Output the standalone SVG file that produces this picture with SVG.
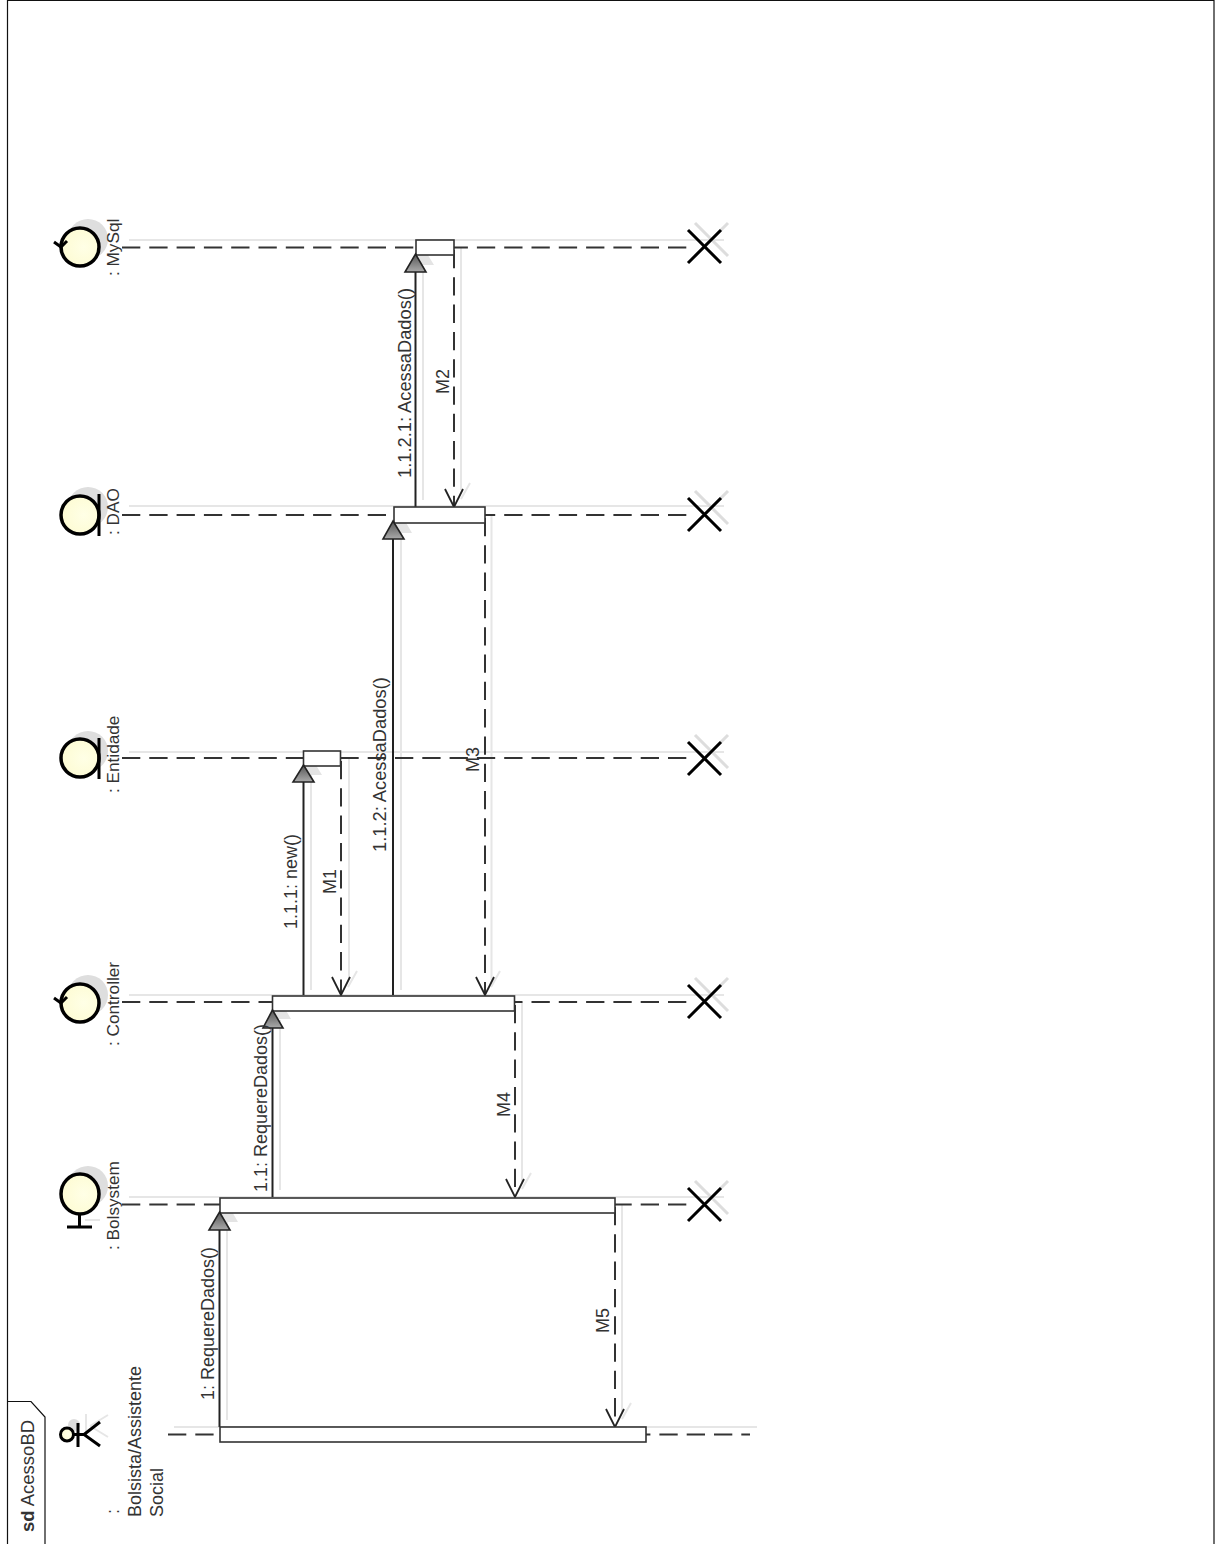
<svg xmlns="http://www.w3.org/2000/svg" width="1216" height="1544" viewBox="0 0 1216 1544">
<defs>
<linearGradient id="head" x1="0" y1="0" x2="0" y2="1"><stop offset="0" stop-color="#555"/><stop offset="1" stop-color="#aaa"/></linearGradient>
<radialGradient id="body" cx="0.6" cy="0.5" r="0.7"><stop offset="0" stop-color="#ffffe6"/><stop offset="1" stop-color="#fdfbd0"/></radialGradient>
</defs>
<style>
text{font-family:"Liberation Sans",Arial,sans-serif;font-size:18px;fill:#333}
.name{font-size:17.2px}
.wide{font-size:18.3px}
.frame{fill:none;stroke:#111;stroke-width:1.2}
.life{fill:none;stroke:#333;stroke-width:2;stroke-dasharray:18.3 9}
.shl{fill:none;stroke:#e6e6e6;stroke-width:2}
.sh{fill:#dedede;stroke:none}
.ic{fill:url(#body);stroke:#000;stroke-width:3.5}
.il{fill:none;stroke:#000;stroke-width:3}
.x{fill:none;stroke:#000;stroke-width:3}
.shx{fill:none;stroke:#ddd;stroke-width:3}
.act{fill:#fff;stroke:#333;stroke-width:1.6}
.msg{fill:none;stroke:#222;stroke-width:2}
.ret{fill:none;stroke:#333;stroke-width:2;stroke-dasharray:18.3 9}
.open{fill:none;stroke:#222;stroke-width:1.8}
.tri{fill:url(#head);stroke:#222;stroke-width:1.6}
.trs{fill:#e4e4e4;stroke:none}
</style>
<g id="frame">
<path class="frame" d="M7.500 1544 V0.500 H1214 V1544"/>
<path class="frame" d="M7.500 1401.500 H31 L45 1417 V1544"/>
<text class="wide" style="font-size:18.500px" transform="translate(34,1532) rotate(-90)"><tspan font-weight="bold">sd</tspan> AcessoBD</text>
</g>
<g id="connectors">
<path class="shl" d="M129 240 H724 M129 506 H724 M129 752 H724 M129 995 H724 M129 1197 H724 M174 1427 H757"/>
<path class="shl" d="M423 266 V500 M461 247 V490 M401 533 V990 M491.500 515 V980 M311 775 V990 M349 758 V980 M280 1020 V1190 M522 1002 V1182 M227 1222 V1420 M622 1204 V1412"/>
<path class="shl" d="M461 499 L470 483 M348 987 L357 971 M491 987 L500 971 M522 1189 L531 1173 M622 1419 L631 1403"/>
<path class="life" d="M122 247.500 H690"/>
<path class="life" d="M122 515 H690"/>
<path class="life" d="M122 758 H690"/>
<path class="life" d="M122 1002 H690"/>
<path class="life" d="M122 1204.500 H690"/>
<path class="life" d="M168 1434.500 H750"/>
<path class="msg" d="M415.500 270 V507"/>
<path class="ret" d="M454 250 V507"/>
<path class="msg" d="M393 538 V995"/>
<path class="ret" d="M485 518 V995"/>
<path class="msg" d="M303.500 780 V995"/>
<path class="ret" d="M341 761 V995"/>
<path class="msg" d="M272.500 1027 V1197"/>
<path class="ret" d="M515 1005 V1197"/>
<path class="msg" d="M219.500 1230 V1427"/>
<path class="ret" d="M615 1207 V1427"/>
<path class="open" d="M445 489 L454 507 L463 489 M332 977 L341 995 L350 977 M476 977 L485 995 L494 977 M506 1179 L515 1197 L524 1179 M606 1409 L615 1427 L624 1409"/>
<path class="trs" d="M423 247 L434 265 L412 265Z M401 514 L412 533 L390 533Z M311 757 L322 775 L300 775Z M281 1002 L291 1019 L271 1019Z M227 1203 L238 1222 L216 1222Z"/>
</g>
<g id="mysql">
<circle class="sh" cx="88" cy="239" r="20"/>
<rect class="act" x="416" y="240" width="38" height="15"/>
<path class="tri" d="M415.500 254 L426 272 L405 272Z"/>
<circle class="ic" cx="80" cy="247" r="19"/>
<path class="il" d="M54 242 L61 247 L67 241"/>
<text class="name" transform="translate(119,276) rotate(-90)">: MySql</text>
</g>
<g id="dao">
<circle class="sh" cx="88" cy="507" r="20"/>
<rect class="act" x="394" y="507" width="91" height="16"/>
<path class="tri" d="M393 521 L404 539 L383 539Z"/>
<circle class="ic" cx="80" cy="515" r="19"/>
<path class="il" d="M99 494 V536"/>
<text class="name" transform="translate(119,535) rotate(-90)">: DAO</text>
</g>
<g id="entidade">
<circle class="sh" cx="88" cy="751" r="20"/>
<rect class="act" x="303.500" y="751" width="37" height="15"/>
<path class="tri" d="M303.500 765 L314 782 L293 782Z"/>
<circle class="ic" cx="80" cy="758" r="19"/>
<path class="il" d="M99 738 V779"/>
<text class="name" transform="translate(119,793) rotate(-90)">: Entidade</text>
</g>
<g id="controller">
<circle class="sh" cx="88" cy="995" r="20"/>
<rect class="act" x="272.500" y="996" width="242" height="15"/>
<path class="tri" d="M272.500 1010 L283 1028 L263 1028Z"/>
<circle class="ic" cx="80" cy="1003" r="19"/>
<path class="il" d="M54 998 L61 1003 L67 997"/>
<text class="name" transform="translate(119,1046) rotate(-90)">: Controller</text>
</g>
<g id="bolsystem">
<circle class="sh" cx="88" cy="1186" r="20"/>
<path class="shl" d="M85 1220 H100"/>
<rect class="act" x="220" y="1198" width="395" height="15"/>
<path class="tri" d="M219.500 1212 L230 1230 L209 1230Z"/>
<ellipse class="ic" cx="80" cy="1194" rx="19" ry="20"/>
<path class="il" d="M79.500 1214 V1227 M67 1227 H92"/>
<text class="name" transform="translate(119,1250) rotate(-90)">: Bolsystem</text>
</g>
<g id="bolsista">
<circle class="sh" cx="74" cy="1425" r="6"/>
<path class="shl" d="M90 1426 L108 1415 M90 1426 L108 1437 M86 1414 V1437"/>
<rect class="act" x="220" y="1427" width="426" height="15"/>
<circle cx="67" cy="1434.500" r="6.500" fill="url(#body)" stroke="#000" stroke-width="3"/>
<path class="il" d="M73 1434.500 H84 M78 1423 V1447 M100 1422 L84 1434.500 L100 1446"/>
<text transform="translate(119,1514) rotate(-90)">:</text>
<text transform="translate(141,1517) rotate(-90)">Bolsista/Assistente</text>
<text transform="translate(163,1517) rotate(-90)">Social</text>
</g>
<g id="labels">
<text class="wide" transform="translate(411,478) rotate(-90)">1.1.2.1: AcessaDados()</text>
<text transform="translate(449,394) rotate(-90)">M2</text>
<text class="wide" transform="translate(386,852) rotate(-90)">1.1.2: AcessaDados()</text>
<text transform="translate(479,772) rotate(-90)">M3</text>
<text transform="translate(297,929) rotate(-90)">1.1.1: new()</text>
<text transform="translate(336,894) rotate(-90)">M1</text>
<text transform="translate(267,1192) rotate(-90)">1.1: RequereDados()</text>
<text transform="translate(510,1117) rotate(-90)">M4</text>
<text transform="translate(214,1400) rotate(-90)">1: RequereDados()</text>
<text transform="translate(609,1333) rotate(-90)">M5</text>
</g>
<g id="ends">
<path class="shx" d="M695 223 L728 256 M728 223 L695 256 M695 491 L728 524 M728 491 L695 524 M695 735 L728 768 M728 735 L695 768 M695 978 L728 1011 M728 978 L695 1011 M695 1181 L728 1214 M728 1181 L695 1214"/>
<path class="x" d="M688 230 L721 263 M721 230 L688 263"/>
<path class="x" d="M688 498 L721 531 M721 498 L688 531"/>
<path class="x" d="M688 742 L721 775 M721 742 L688 775"/>
<path class="x" d="M688 985 L721 1018 M721 985 L688 1018"/>
<path class="x" d="M688 1188 L721 1221 M721 1188 L688 1221"/>
</g>
</svg>
